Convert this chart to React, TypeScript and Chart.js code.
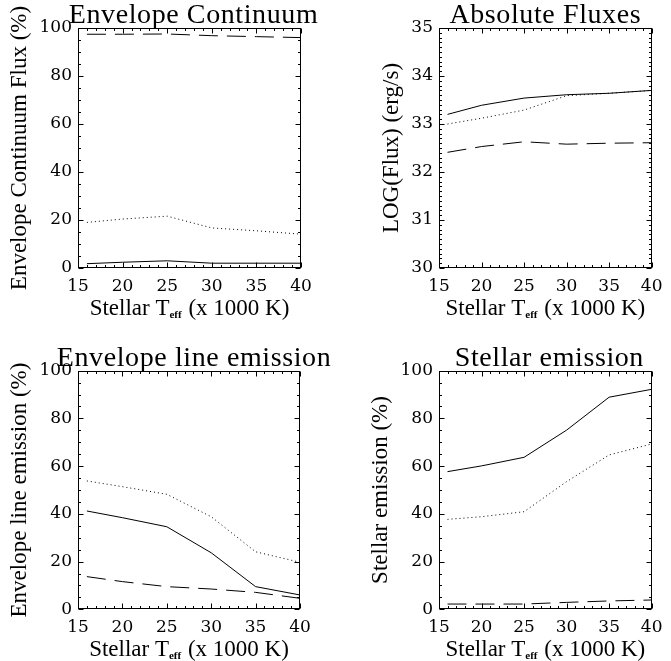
import React, { useEffect, useRef } from 'react';
import { Chart, registerables } from 'chart.js';

Chart.register(...registerables);

// Stellar effective temperature (x 1000 K)
const TEFF = [16, 20, 25, 30, 35, 40];

// Panel 1: Envelope Continuum Flux (%)
const CONT_SOLID = [1.8, 2.4, 3.0, 2.0, 2.0, 2.0];
const CONT_DOTTED = [19.0, 20.4, 21.6, 16.7, 15.5, 14.1];
const CONT_DASHED = [97.4, 97.4, 97.5, 96.8, 96.4, 96.0];

// Panel 2: Absolute fluxes, LOG(Flux) (erg/s)
const ABS_SOLID = [33.2, 33.39, 33.54, 33.61, 33.64, 33.7];
const ABS_DOTTED = [33.0, 33.12, 33.29, 33.59, 33.64, 33.7];
const ABS_DASHED = [32.41, 32.53, 32.63, 32.58, 32.6, 32.61];

// Panel 3: Envelope line emission (%)
const LINE_SOLID = [41.2, 38.4, 34.6, 23.7, 9.5, 6.0];
const LINE_DOTTED = [53.8, 51.4, 48.2, 38.8, 24.1, 19.7];
const LINE_DASHED = [13.7, 11.6, 9.5, 8.5, 7.1, 4.6];

// Panel 4: Stellar emission (%)
const STAR_SOLID = [57.7, 60.1, 63.7, 75.1, 88.9, 92.2];
const STAR_DOTTED = [37.7, 38.8, 40.9, 53.5, 64.7, 69.3];
const STAR_DASHED = [2.2, 2.2, 2.2, 2.9, 3.5, 3.9];

const X_TICKS = [15, 20, 25, 30, 35, 40];
const PCT_TICKS = [0, 20, 40, 60, 80, 100];
const LOG_TICKS = [30, 31, 32, 33, 34, 35];

const TITLE_FONT = 'Liberation Serif';
const TICK_FONT = 'DejaVu Serif';

const idlPlugin = {
  id: 'idlBox',
  afterDatasetsDraw(chart: any, _args: any, opts: any) {
    const { ctx, chartArea: a, scales } = chart;
    const xs = scales.x;
    const ys = scales.y;
    ctx.save();
    ctx.strokeStyle = '#000';
    ctx.lineWidth = 1;
    const L = Math.round(a.left) + 0.5;
    const R = Math.round(a.right) - 0.5;
    const T = Math.round(a.top) + 0.5;
    const B = Math.round(a.bottom) - 0.5;
    ctx.strokeRect(L, T, R - L, B - T);
    ctx.beginPath();
    const nx = Math.round((xs.max - xs.min) / opts.xMinor);
    for (let i = 0; i <= nx; i++) {
      const v = xs.min + i * opts.xMinor;
      const px = Math.round(xs.getPixelForValue(v)) + 0.5;
      const r = v / opts.xMajor;
      const major = Math.abs(r - Math.round(r)) < 1e-6;
      const len = major ? 5 : 2.5;
      ctx.moveTo(px, B);
      ctx.lineTo(px, B - len);
      ctx.moveTo(px, T);
      ctx.lineTo(px, T + len);
    }
    const ny = Math.round((ys.max - ys.min) / opts.yMinor);
    for (let i = 0; i <= ny; i++) {
      const v = ys.min + i * opts.yMinor;
      const py = Math.round(ys.getPixelForValue(v)) + 0.5;
      const r = (v - ys.min) / opts.yMajor;
      const major = Math.abs(r - Math.round(r)) < 1e-6;
      const len = major ? 5 : 2.5;
      ctx.moveTo(L, py);
      ctx.lineTo(L + len, py);
      ctx.moveTo(R, py);
      ctx.lineTo(R - len, py);
    }
    ctx.stroke();

    ctx.fillStyle = '#000';
    ctx.textBaseline = 'alphabetic';

    // panel title
    ctx.font = `28px "${TITLE_FONT}"`;
    try { (ctx as any).letterSpacing = '0.6px'; } catch (e) { /* ignore */ }
    ctx.textAlign = 'center';
    ctx.fillText(opts.title, (a.left + a.right) / 2 + opts.titleDx, a.top + opts.titleBase);
    try { (ctx as any).letterSpacing = '0px'; } catch (e) { /* ignore */ }

    // x axis title with subscript
    const main1 = 'Stellar T';
    const sub = 'eff';
    const main2 = ' (x 1000 K)';
    const f1 = `23px "${TITLE_FONT}"`;
    const f2 = `bold 11px "${TITLE_FONT}"`;
    ctx.textAlign = 'left';
    ctx.font = f1;
    const w1 = ctx.measureText(main1).width;
    const w3 = ctx.measureText(main2).width;
    ctx.font = f2;
    const w2 = ctx.measureText(sub).width + 1;
    const total = w1 + w2 + w3;
    const cx = (a.left + a.right) / 2;
    const base = a.bottom + opts.xTitleBase;
    let x0 = cx - total / 2;
    ctx.font = f1;
    ctx.fillText(main1, x0, base);
    x0 += w1;
    ctx.font = f2;
    ctx.fillText(sub, x0, base + 3);
    x0 += w2;
    ctx.font = f1;
    ctx.fillText(main2, x0, base);
    ctx.restore();
  },
};

type PanelSpec = {
  title: string;
  titleDx: number;
  yTitle: string;
  series: number[][];
  yMin: number;
  yMax: number;
  yStep: number;
  yTicks: number[];
  yMinor: number;
  yWidth: number;
  yTitlePad: number;
  padTop: number;
  padRight: number;
  xHeight: number;
};

function buildConfig(p: PanelSpec): any {
  const dashes = [[], [1, 3], [19, 9]];
  const datasets = p.series.map((vals, i) => ({
    label: ['solid', 'dotted', 'dashed'][i],
    data: TEFF.map((t, k) => ({ x: t, y: vals[k] })),
    borderColor: '#000',
    borderWidth: 1,
    borderDash: dashes[i],
    pointRadius: 0,
    tension: 0,
    fill: false,
  }));
  return {
    type: 'line',
    data: { datasets },
    plugins: [idlPlugin],
    options: {
      animation: false,
      responsive: false,
      maintainAspectRatio: false,
      devicePixelRatio: 1,
      layout: { padding: { top: p.padTop, right: p.padRight, bottom: 0, left: 0 } },
      plugins: {
        legend: { display: false },
        tooltip: { enabled: false },
        title: { display: false },
        idlBox: {
          title: p.title,
          titleDx: p.titleDx,
          titleBase: -5,
          xMinor: 1,
          xMajor: 5,
          yMinor: p.yMinor,
          yMajor: p.yStep,
          xTitleBase: 47,
        },
      },
      scales: {
        x: {
          type: 'linear',
          min: 15,
          max: 40,
          afterBuildTicks: (s: any) => {
            s.ticks = X_TICKS.map((v) => ({ value: v }));
          },
          afterFit: (s: any) => {
            s.height = p.xHeight;
          },
          grid: { display: false, drawTicks: false },
          border: { display: false },
          ticks: {
            color: '#000',
            font: { family: TICK_FONT, size: 17 },
            padding: 8.5,
            maxRotation: 0,
            autoSkip: false,
          },
        },
        y: {
          type: 'linear',
          min: p.yMin,
          max: p.yMax,
          afterBuildTicks: (s: any) => {
            s.ticks = p.yTicks.map((v) => ({ value: v }));
          },
          afterFit: (s: any) => {
            s.width = p.yWidth;
          },
          grid: { display: false, drawTicks: false },
          border: { display: false },
          ticks: {
            color: '#000',
            font: { family: TICK_FONT, size: 17 },
            padding: 6,
            autoSkip: false,
          },
          title: {
            display: true,
            text: p.yTitle,
            color: '#000',
            font: { family: TITLE_FONT, size: 23, lineHeight: 1.2 },
            padding: { top: p.yTitlePad, bottom: 0 },
          },
        },
      },
    },
  };
}

function Panel({ left, top, width, height, spec }: { left: number; top: number; width: number; height: number; spec: PanelSpec }) {
  const ref = useRef<HTMLCanvasElement | null>(null);
  useEffect(() => {
    if (!ref.current) return;
    const chart = new Chart(ref.current, buildConfig(spec));
    return () => chart.destroy();
  }, [spec]);
  return (
    <canvas
      ref={ref}
      width={width}
      height={height}
      style={{ position: 'absolute', left, top, width, height, display: 'block' }}
    />
  );
}

const P1: PanelSpec = {
  title: 'Envelope Continuum',
  titleDx: 4,
  yTitle: 'Envelope Continuum Flux (%)',
  series: [CONT_SOLID, CONT_DOTTED, CONT_DASHED],
  yMin: 0, yMax: 100, yStep: 20, yTicks: PCT_TICKS, yMinor: 5,
  yWidth: 78, yTitlePad: 6.2, padTop: 28, padRight: 34, xHeight: 62,
};
const P2: PanelSpec = {
  title: 'Absolute Fluxes',
  titleDx: 0,
  yTitle: 'LOG(Flux) (erg/s)',
  series: [ABS_SOLID, ABS_DOTTED, ABS_DASHED],
  yMin: 30, yMax: 35, yStep: 1, yTicks: LOG_TICKS, yMinor: 0.1,
  yWidth: 104, yTitlePad: 43.2, padTop: 28, padRight: 10.3, xHeight: 62,
};
const P3: PanelSpec = {
  title: 'Envelope line emission',
  titleDx: 5,
  yTitle: 'Envelope line emission (%)',
  series: [LINE_SOLID, LINE_DOTTED, LINE_DASHED],
  yMin: 0, yMax: 100, yStep: 20, yTicks: PCT_TICKS, yMinor: 5,
  yWidth: 78, yTitlePad: 6.2, padTop: 40.7, padRight: 35, xHeight: 51.7,
};
const P4: PanelSpec = {
  title: 'Stellar emission',
  titleDx: 4,
  yTitle: 'Stellar emission (%)',
  series: [STAR_SOLID, STAR_DOTTED, STAR_DASHED],
  yMin: 0, yMax: 100, yStep: 20, yTicks: PCT_TICKS, yMinor: 5,
  yWidth: 104, yTitlePad: 32.2, padTop: 40.7, padRight: 10.3, xHeight: 51.7,
};

export default function App() {
  return (
    <div style={{ position: 'absolute', left: 0, top: 0, width: 671, height: 661, background: '#fff', overflow: 'hidden' }}>
      <Panel left={0} top={0} width={335} height={330} spec={P1} />
      <Panel left={335} top={0} width={336} height={330} spec={P2} />
      <Panel left={0} top={330} width={335} height={331} spec={P3} />
      <Panel left={335} top={330} width={336} height={331} spec={P4} />
    </div>
  );
}
